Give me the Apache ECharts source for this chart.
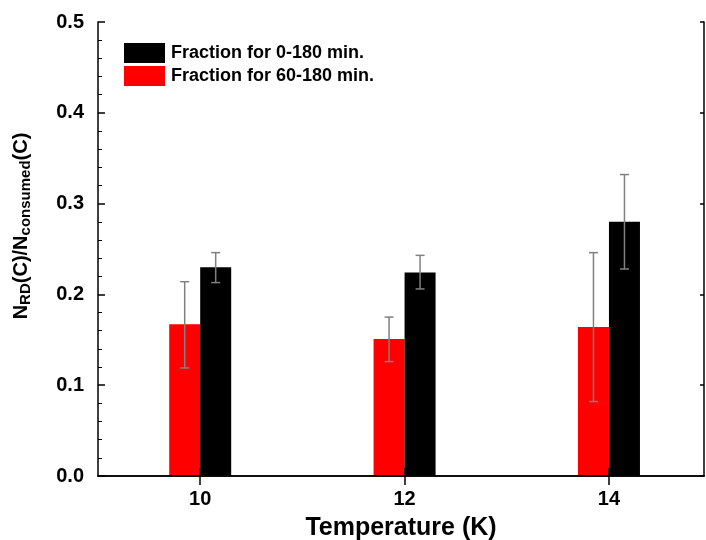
<!DOCTYPE html>
<html>
<head>
<meta charset="utf-8">
<script src="https://cdn.jsdelivr.net/npm/echarts@6/dist/echarts.min.js"></script>
<style>html,body{margin:0;padding:0;background:#fff}#c{width:706px;height:540px}</style>
</head>
<body>
<div id="c"></div>
<script>
// Data
var temps = [10, 12, 14];
var tickTemps = [10, 12, 14];
var frac0to180 = [0.230, 0.224, 0.280];
var frac0to180Lo = [0.213, 0.206, 0.228];
var frac0to180Hi = [0.246, 0.243, 0.332];
var frac60to180 = [0.167, 0.151, 0.164];
var frac60to180Lo = [0.119, 0.126, 0.082];
var frac60to180Hi = [0.214, 0.175, 0.246];
var name0 = 'Fraction for 0-180 min.';
var name60 = 'Fraction for 60-180 min.';

var FONT = 'Liberation Sans, Arial, sans-serif';
var BAR_W = 31;

function pairs(xs, ys) { return xs.map(function (x, i) { return [x, ys[i]]; }); }
function errData(xs, lo, hi) { return xs.map(function (x, i) { return [x, lo[i], hi[i]]; }); }

function errRender(offset) {
  return function (params, api) {
    var x = api.value(0);
    var pLo = api.coord([x, api.value(1)]);
    var pHi = api.coord([x, api.value(2)]);
    var cx = pLo[0] + offset;
    var cap = 4.5;
    var st = { stroke: '#808080', lineWidth: 1.5 };
    return {
      type: 'group',
      children: [
        { type: 'line', shape: { x1: cx, y1: pLo[1], x2: cx, y2: pHi[1] }, style: st },
        { type: 'line', shape: { x1: cx - cap, y1: pLo[1], x2: cx + cap, y2: pLo[1] }, style: st },
        { type: 'line', shape: { x1: cx - cap, y1: pHi[1], x2: cx + cap, y2: pHi[1] }, style: st }
      ]
    };
  };
}

var chart = echarts.init(document.getElementById('c'), null, { renderer: 'canvas' });
var axisLineStyle = { color: '#000', width: 1.5 };

chart.setOption({
  animation: false,
  backgroundColor: '#fff',
  grid: { left: 98, right: 2, top: 22, bottom: 64, containLabel: false, outerBoundsMode: 'none' },
  legend: {
    data: [name0, name60],
    orient: 'vertical',
    left: 119, top: 38,
    icon: 'rect',
    itemWidth: 41, itemHeight: 20, itemGap: 3,
    textStyle: { fontFamily: FONT, fontSize: 18, fontWeight: 'bold', color: '#000', padding: [0, 0, 0, 1] }
  },
  xAxis: [{
    type: 'value', min: 9, max: 14.93, position: 'bottom', z: 5,
    axisLine: { show: true, lineStyle: axisLineStyle },
    axisTick: { show: true, inside: true, length: 8, customValues: tickTemps, lineStyle: { color: '#000', width: 1.5 } },
    axisLabel: { customValues: tickTemps, margin: 13, fontFamily: FONT, fontSize: 20, fontWeight: 'bold', color: '#000' },
    splitLine: { show: false },
    name: 'Temperature (K)', nameLocation: 'middle', nameGap: 40,
    nameTextStyle: { fontFamily: FONT, fontSize: 25, fontWeight: 'bold', color: '#000' }
  }, {
    type: 'value', min: 9, max: 14.93, position: 'top', z: 5,
    axisLine: { show: true, lineStyle: axisLineStyle },
    axisTick: { show: true, inside: true, length: 9, customValues: tickTemps, lineStyle: { color: '#000', width: 1.5 } },
    axisLabel: { show: false },
    splitLine: { show: false }
  }],
  yAxis: [{
    type: 'value', min: 0, max: 0.5, interval: 0.1, position: 'left', z: 5,
    axisLine: { show: true, lineStyle: axisLineStyle },
    axisTick: { show: true, inside: true, length: 7, lineStyle: { color: '#000', width: 1.5 } },
    minorTick: { show: true, splitNumber: 5, length: 4, lineStyle: { color: '#000', width: 1 } },
    axisLabel: { margin: 14, fontFamily: FONT, fontSize: 20, fontWeight: 'bold', color: '#000',
      formatter: function (v) { return v.toFixed(1); } },
    splitLine: { show: false },
    name: '{n|N}{s|RD}{n|(C)/N}{s|consumed}{n|(C)}',
    nameLocation: 'middle', nameRotate: 90, nameGap: 65,
    nameTextStyle: {
      padding: [0, 0, 0, 46],
      rich: {
        n: { fontFamily: FONT, fontSize: 20, fontWeight: 'bold', color: '#000', lineHeight: 22, verticalAlign: 'top' },
        s: { fontFamily: FONT, fontSize: 15, fontWeight: 'bold', color: '#000', lineHeight: 15, padding: [14, 0, 0, 0], verticalAlign: 'bottom' }
      }
    }
  }, {
    type: 'value', min: 0, max: 0.5, interval: 0.1, position: 'right', z: 5,
    axisLine: { show: true, lineStyle: axisLineStyle },
    axisTick: { show: true, inside: true, length: 4, lineStyle: { color: '#000', width: 1.5 } },
    axisLabel: { show: false },
    splitLine: { show: false }
  }],
  series: [{
    name: name60, type: 'bar', xAxisIndex: 0, yAxisIndex: 0,
    data: pairs(temps, frac60to180), barWidth: BAR_W, barGap: '0%',
    itemStyle: { color: '#ff0000' }
  }, {
    name: name0, type: 'bar', xAxisIndex: 0, yAxisIndex: 0,
    data: pairs(temps, frac0to180), barWidth: BAR_W, barGap: '0%',
    itemStyle: { color: '#000000' }
  }, {
    type: 'custom', xAxisIndex: 0, yAxisIndex: 0, z: 4,
    renderItem: errRender(-BAR_W / 2),
    encode: { x: 0, y: [1, 2] },
    data: errData(temps, frac60to180Lo, frac60to180Hi)
  }, {
    type: 'custom', xAxisIndex: 0, yAxisIndex: 0, z: 4,
    renderItem: errRender(BAR_W / 2),
    encode: { x: 0, y: [1, 2] },
    data: errData(temps, frac0to180Lo, frac0to180Hi)
  }]
});
</script>
</body>
</html>
